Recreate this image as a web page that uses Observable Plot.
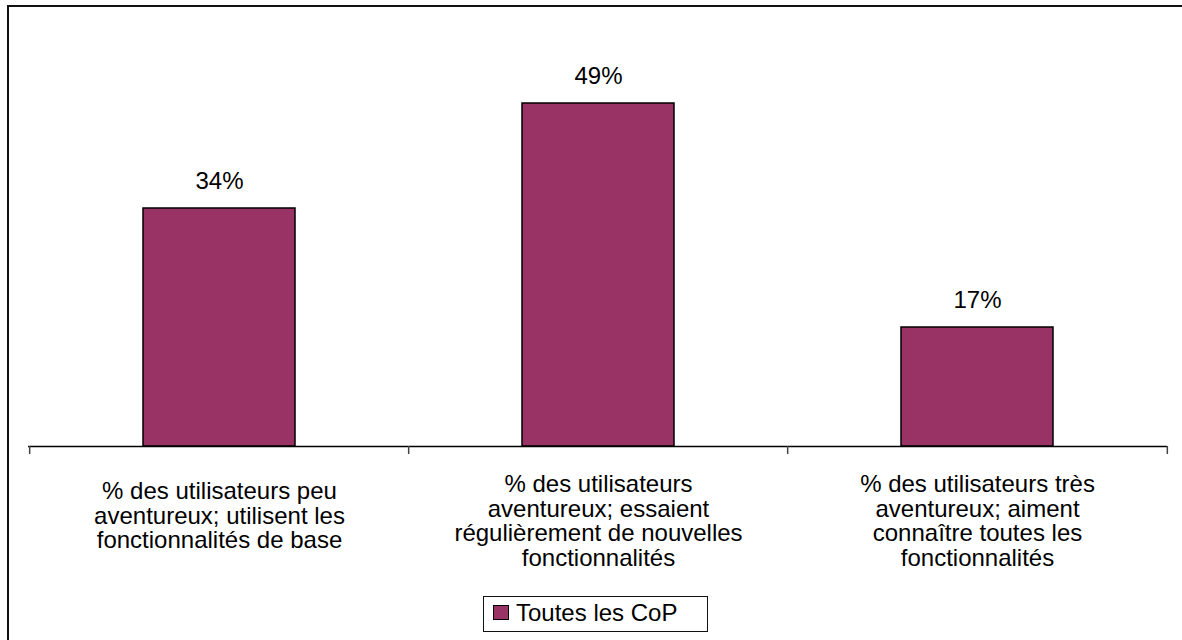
<!DOCTYPE html>
<html>
<head>
<meta charset="utf-8">
<script src="https://cdn.jsdelivr.net/npm/d3@7"></script>
<script src="https://cdn.jsdelivr.net/npm/@observablehq/plot@0.6"></script>
<style>
  html, body { margin: 0; padding: 0; background: #fff; overflow: hidden; }
  #chart { position: relative; width: 1182px; height: 640px; overflow: hidden;
           font-family: "Liberation Sans", Arial, sans-serif; }
  #chart svg { position: absolute; left: 0; top: 0; }
  #frame { position: absolute; left: 7px; top: 5px; width: 1300px; height: 800px;
           border-left: 2px solid #111; border-top: 2px solid #111; }
  #legend { position: absolute; left: 483px; top: 596px; width: 225px; height: 36px;
            border: 1px solid #111; box-sizing: border-box; background: #fff; }
  #legend .sw { position: absolute; left: 9px; top: 8px; width: 16px; height: 15px;
                box-sizing: border-box; border: 1.5px solid #000; }
  #legend .lb { position: absolute; left: 32px; top: 2px; font-size: 24px; line-height: 28px; color: #000; }
</style>
</head>
<body>
<div id="chart"><div id="frame"></div></div>
<script>
// Survey categories (axis labels), shares in percent, series name
const categories = [
  "% des utilisateurs peu\naventureux; utilisent les\nfonctionnalités de base",
  "% des utilisateurs\naventureux; essaient\nrégulièrement de nouvelles\nfonctionnalités",
  "% des utilisateurs très\naventureux; aiment\nconnaître toutes les\nfonctionnalités"
];
const values = [34, 49, 17];
const seriesName = "Toutes les CoP";
const barColor = "#993366";

const data = categories.map((c, i) => ({category: c, value: values[i]}));

const W = 1182, H = 640;
const mL = 28, mR = 15;
const step = (W - mL - mR) / categories.length;
const font = "'Liberation Sans', Arial, sans-serif";

const chart = Plot.plot({
  width: W,
  height: H,
  marginTop: 26,
  marginBottom: 194,
  marginLeft: mL,
  marginRight: mR,
  style: {fontFamily: font, background: "transparent", overflow: "visible"},
  x: {domain: categories, paddingInner: 0.6, paddingOuter: 0.3, axis: null},
  y: {domain: [0, 60], axis: null},
  marks: [
    Plot.barY(data, {x: "category", y: "value", fill: barColor, stroke: "#000", strokeWidth: 1.5}),
    Plot.ruleY([0], {stroke: "#000", strokeWidth: 1.5}),
    // category boundary ticks below the axis
    Plot.ruleX(categories, {x: d => d, y1: 0, y2: 0, insetBottom: -8, dx: -step / 2, stroke: "#444", strokeWidth: 1.5}),
    Plot.ruleX(categories.slice(-1), {x: d => d, y1: 0, y2: 0, insetBottom: -8, dx: step / 2, stroke: "#444", strokeWidth: 1.5}),
    // value labels
    Plot.text(data, {x: "category", y: "value", text: d => d.value + "%", dy: -27,
      lineAnchor: "middle", fontSize: 24, fill: "#000"}),
    // category labels
    Plot.text(data.filter(d => d.category.split("\n").length === 3), {x: "category", text: "category",
      frameAnchor: "bottom", lineAnchor: "top", dy: 35, lineHeight: 1.03, fontSize: 24, fill: "#000"}),
    Plot.text(data.filter(d => d.category.split("\n").length !== 3), {x: "category", text: "category",
      frameAnchor: "bottom", lineAnchor: "top", dy: 28, lineHeight: 1.03, fontSize: 24, fill: "#000"})
  ]
});

const root = document.getElementById("chart");
root.appendChild(chart);

const legend = document.createElement("div");
legend.id = "legend";
const sw = document.createElement("div");
sw.className = "sw";
sw.style.background = barColor;
const lb = document.createElement("div");
lb.className = "lb";
lb.textContent = seriesName;
legend.appendChild(sw);
legend.appendChild(lb);
root.appendChild(legend);
</script>
</body>
</html>
